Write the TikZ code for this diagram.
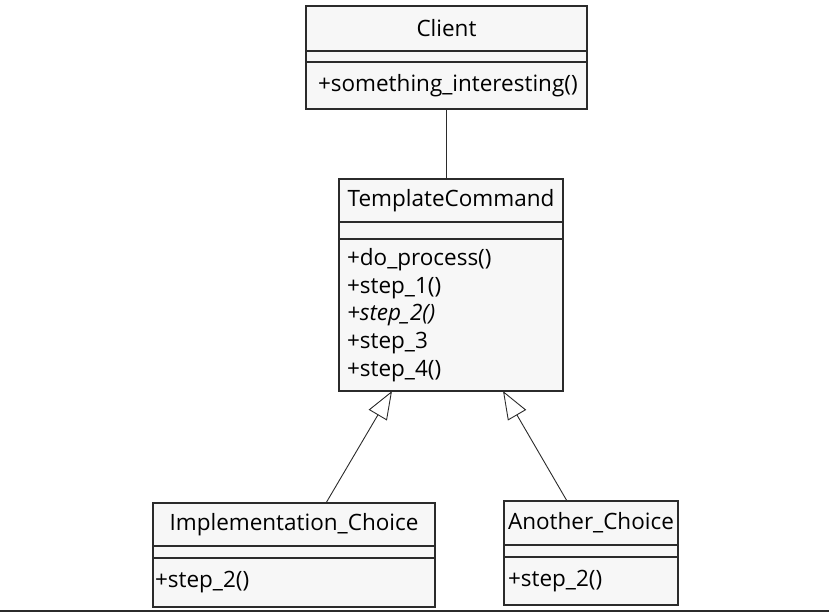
\documentclass[tikz,border=0pt]{standalone}
\usepackage{fontspec}
\setmainfont{Open Sans}
\usetikzlibrary{positioning,arrows.meta}

\definecolor{boxfill}{HTML}{F7F7F7}
\definecolor{boxline}{HTML}{2B2B2B}

\tikzset{
    umlpart/.style={draw=boxline, fill=boxfill, line width=1.4pt, outer sep=0pt,
        inner ysep=0pt, font=\fontsize{22.5}{27.8}\selectfont, text=black},
    umlname/.style={umlpart, align=center},
    umlops/.style={umlpart, align=left},
    inherit/.style={draw=boxline, line width=0.9pt,
        -{Triangle[open, length=28pt, width=21pt, line width=0.9pt]}},
}

\begin{document}
\begin{tikzpicture}[x=1pt,y=-1pt]
    \useasboundingbox (0,0) rectangle (829,612);

    % Client
    \node[umlname, minimum width=281pt, minimum height=45pt] (client) at (446.5,28.5) {Client};
    \node[umlpart, minimum width=281pt, minimum height=11pt, below=0pt of client] (client-attr) {};
    \node[umlops, text width=257pt, inner xsep=12pt, minimum height=47pt, below=0pt of client-attr] (client-ops)
        {+something\_interesting()};

    % TemplateCommand
    \node[umlname, minimum width=224pt, minimum height=43pt] (tc) at (451,200.5) {TemplateCommand};
    \node[umlpart, minimum width=224pt, minimum height=17pt, below=0pt of tc] (tc-attr) {};
    \node[umlops, text width=208pt, inner xsep=8pt, minimum height=152pt, below=0pt of tc-attr] (tc-ops)
        {+do\_process()\\+step\_1()\\\textit{+step\_2()}\\+step\_3\\+step\_4()};

    % Implementation_Choice
    \node[umlname, minimum width=282pt, minimum height=43pt] (impl) at (294,524.5) {Implementation\_Choice};
    \node[umlpart, minimum width=282pt, minimum height=12pt, below=0pt of impl] (impl-attr) {};
    \node[umlops, text width=278pt, inner xsep=2pt, minimum height=49pt, below=0pt of impl-attr] (impl-ops)
        {+step\_2()};

    % Another_Choice
    \node[umlops, text width=166pt, inner xsep=4pt, minimum height=44pt] (other) at (591,523) {Another\_Choice};
    \node[umlpart, minimum width=174pt, minimum height=12pt, below=0pt of other] (other-attr) {};
    \node[umlops, text width=166pt, inner xsep=4pt, minimum height=48pt, below=0pt of other-attr] (other-ops)
        {+step\_2()};

    % Links
    \draw[draw=boxline, line width=0.9pt] (client-ops.south) -- (client-ops.south |- tc.north);
    \draw[inherit] ([xshift=32pt]impl.north) -- ([xshift=-59pt]tc-ops.south);
    \draw[inherit] ([xshift=-24pt]other.north) -- ([xshift=52pt]tc-ops.south);

    % Bottom edge
    \draw[draw=boxline, line width=1.5pt] (0,611) -- (829,611);
\end{tikzpicture}
\end{document}
